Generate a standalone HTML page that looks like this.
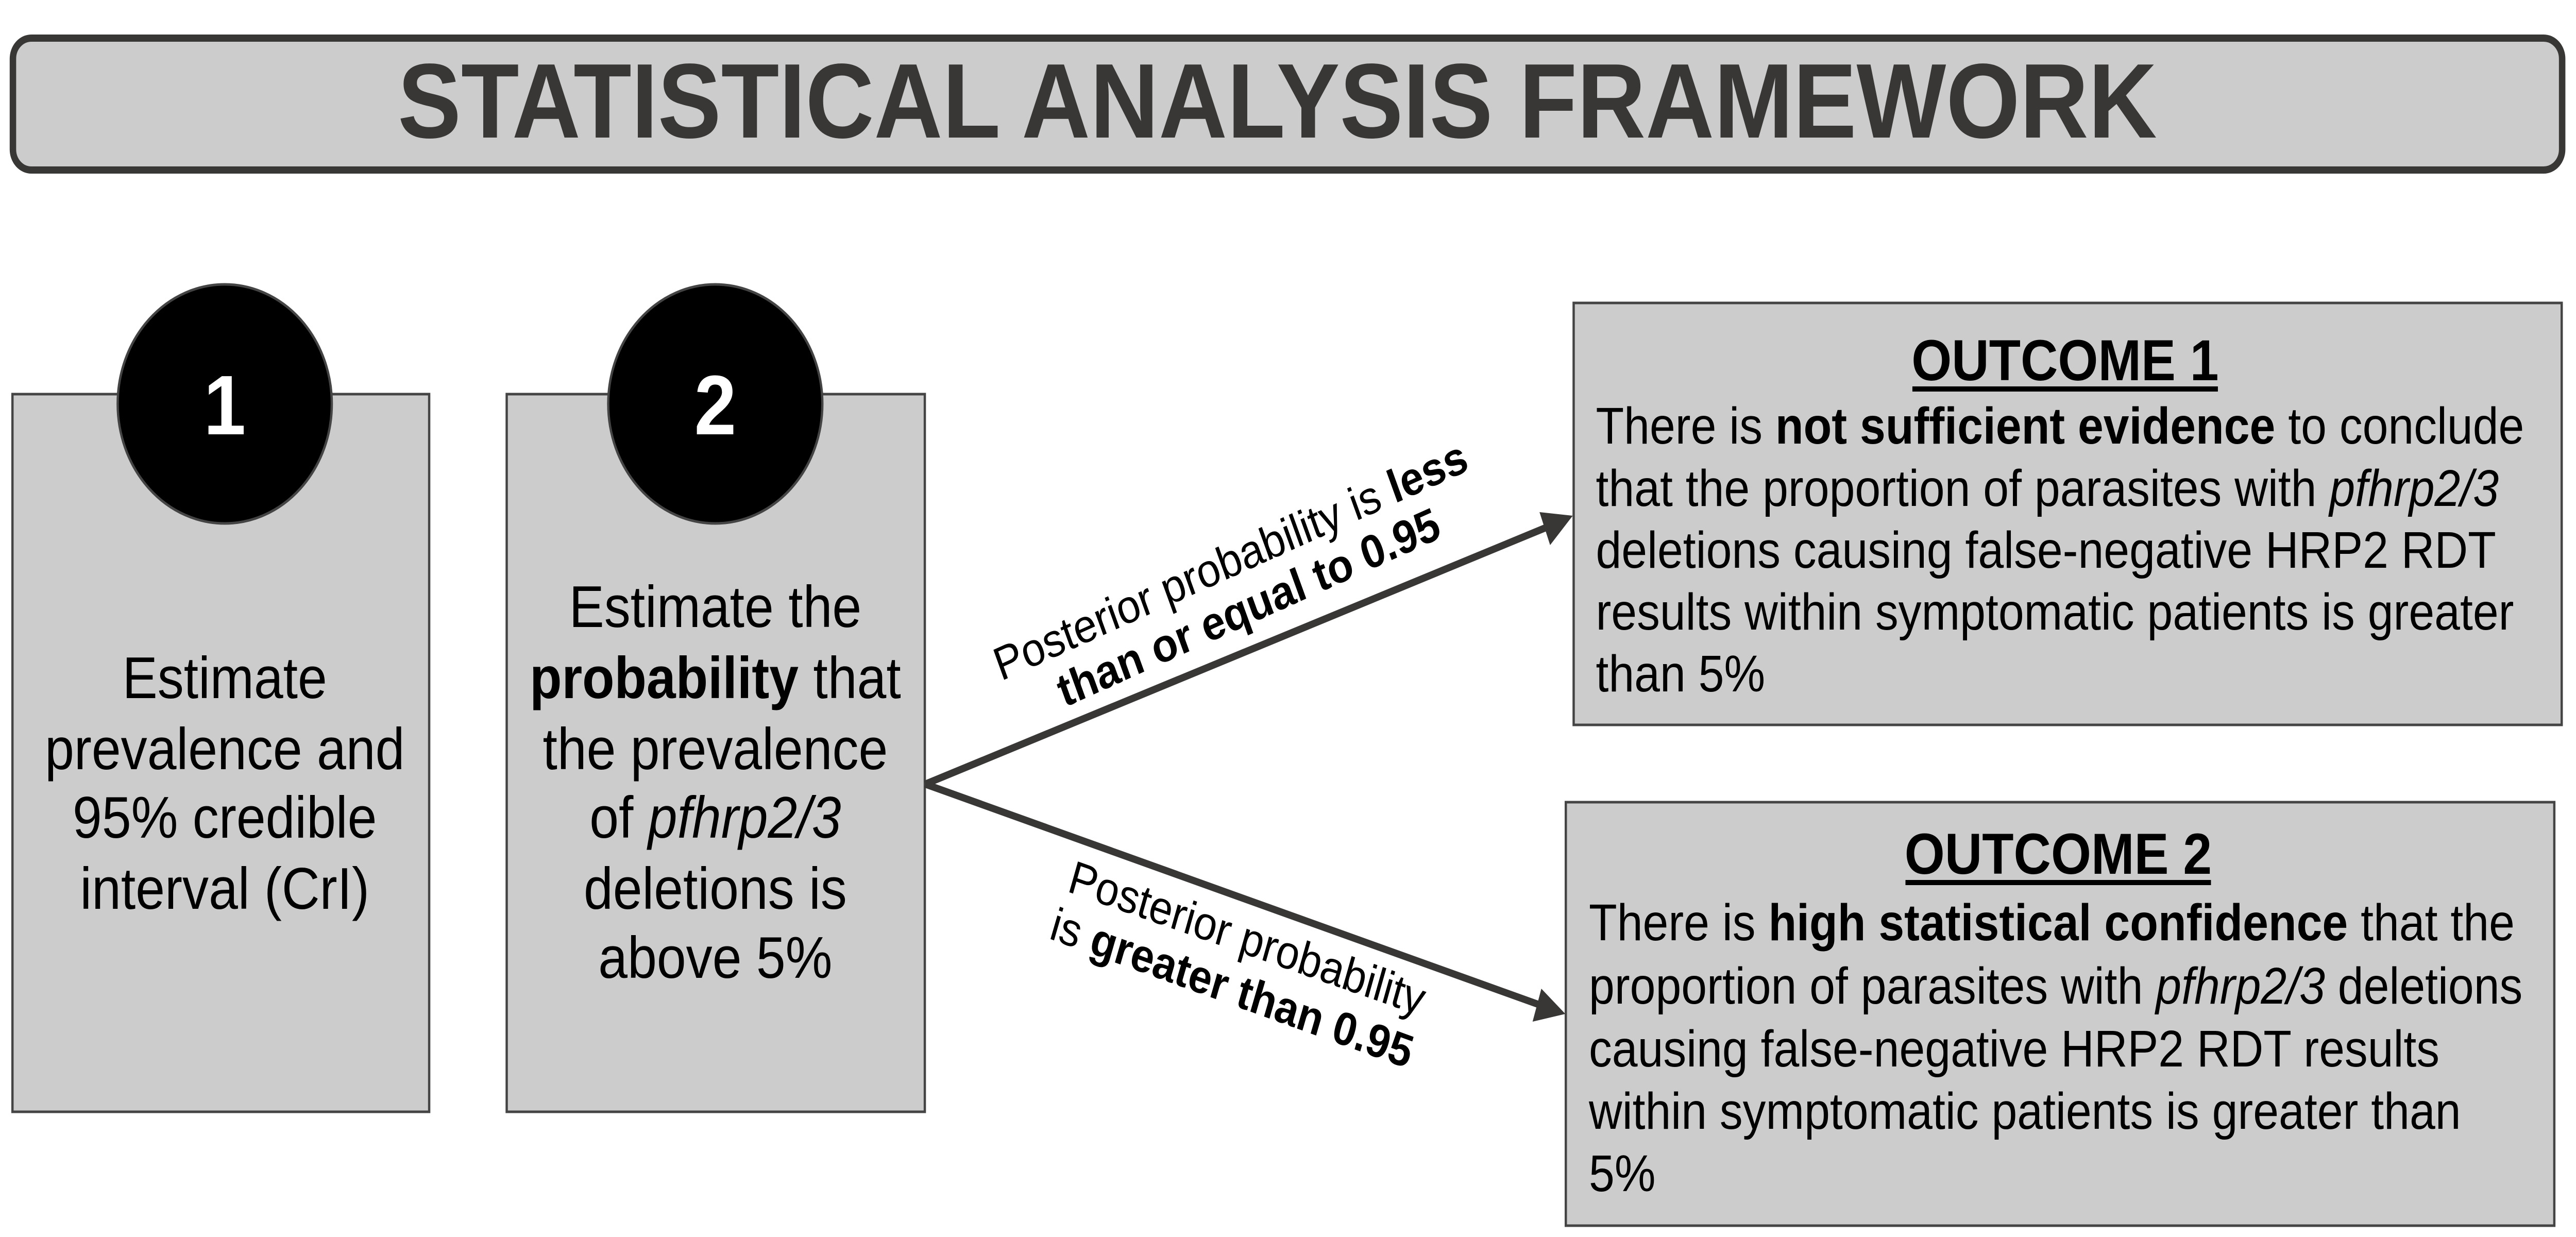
<!DOCTYPE html>
<html><head><meta charset="utf-8"><style>
html,body{margin:0;padding:0;background:#fff;width:100%;height:100%;overflow:hidden;}
svg{display:block;width:100vw;height:100vh;}
text{font-family:"Liberation Sans",Arial,sans-serif;}
</style></head><body>
<svg viewBox="0 0 5582 2401" preserveAspectRatio="none" xmlns="http://www.w3.org/2000/svg">
<rect x="28" y="74" width="5524" height="256" rx="40" ry="40" fill="#cccccc" stroke="#383735" stroke-width="14"/>
<text x="862" y="267" font-size="206" font-weight="bold" fill="#383735" textLength="3812" lengthAdjust="spacingAndGlyphs">STATISTICAL ANALYSIS FRAMEWORK</text>

<rect x="27" y="765" width="903" height="1393" fill="#cccccc" stroke="#444" stroke-width="5"/>
<rect x="1098" y="765" width="906" height="1393" fill="#cccccc" stroke="#444" stroke-width="5"/>
<circle cx="487" cy="784" r="232" fill="#000" stroke="#444" stroke-width="5"/>
<circle cx="1550" cy="784" r="232" fill="#000" stroke="#444" stroke-width="5"/>
<text x="487" y="843" text-anchor="middle" font-size="164" font-weight="bold" fill="#fff">1</text>
<text x="1550" y="843" text-anchor="middle" font-size="164" font-weight="bold" fill="#fff">2</text>

<g font-size="114" text-anchor="middle" fill="#000">
<text x="487" y="1355">Estimate</text>
<text x="487" y="1493">prevalence and</text>
<text x="487" y="1626">95% credible</text>
<text x="487" y="1764">interval (CrI)</text>
<text x="1550" y="1217">Estimate the</text>
<text x="1550" y="1355"><tspan font-weight="bold">probability</tspan> that</text>
<text x="1550" y="1493">the prevalence</text>
<text x="1550" y="1626">of <tspan font-style="italic">pfhrp2/3</tspan></text>
<text x="1550" y="1764">deletions is</text>
<text x="1550" y="1898">above 5%</text>
</g>

<line x1="2005" y1="1522" x2="3350" y2="1024" stroke="#383735" stroke-width="14"/>
<line x1="2005" y1="1522" x2="3335" y2="1950" stroke="#383735" stroke-width="14"/>
<polygon points="3408,1001 3336,994 3359,1058" fill="#383735"/>
<polygon points="3392,1968 3340,1919 3321,1983" fill="#383735"/>

<g font-size="91" text-anchor="middle" fill="#000">
<text transform="translate(2666,1087) rotate(-22)" y="32">Posterior probability is <tspan font-weight="bold">less</tspan></text>
<text transform="translate(2705,1178) rotate(-22)" y="32" font-weight="bold">than or equal to 0.95</text>
<text transform="translate(2703,1820) rotate(17.5)" y="32">Posterior probability</text>
<text transform="translate(2670,1917) rotate(18)" y="32">is <tspan font-weight="bold">greater than 0.95</tspan></text>
</g>

<rect x="3410" y="588" width="2141" height="819" fill="#cccccc" stroke="#444" stroke-width="5"/>
<rect x="3393" y="1557" width="2142" height="822" fill="#cccccc" stroke="#444" stroke-width="5"/>

<g font-size="112" font-weight="bold" text-anchor="middle" fill="#000">
<text x="4475" y="738">OUTCOME 1</text>
<text x="4460" y="1696">OUTCOME 2</text>
</g>
<rect x="4144" y="750" width="662" height="10" fill="#000"/>
<rect x="4129" y="1708" width="662" height="10" fill="#000"/>

<g font-size="100" fill="#000">
<text x="3458" y="861">There is <tspan font-weight="bold">not sufficient evidence</tspan> to conclude</text>
<text x="3458" y="982">that the proportion of parasites with <tspan font-style="italic">pfhrp2/3</tspan></text>
<text x="3458" y="1102">deletions causing false-negative HRP2 RDT</text>
<text x="3458" y="1222">results within symptomatic patients is greater</text>
<text x="3458" y="1342">than 5%</text>
<text x="3443" y="1825">There is <tspan font-weight="bold">high statistical confidence</tspan> that the</text>
<text x="3443" y="1948">proportion of parasites with <tspan font-style="italic">pfhrp2/3</tspan> deletions</text>
<text x="3443" y="2070">causing false-negative HRP2 RDT results</text>
<text x="3443" y="2191">within symptomatic patients is greater than</text>
<text x="3443" y="2312">5%</text>
</g>
</svg>
</body></html>
